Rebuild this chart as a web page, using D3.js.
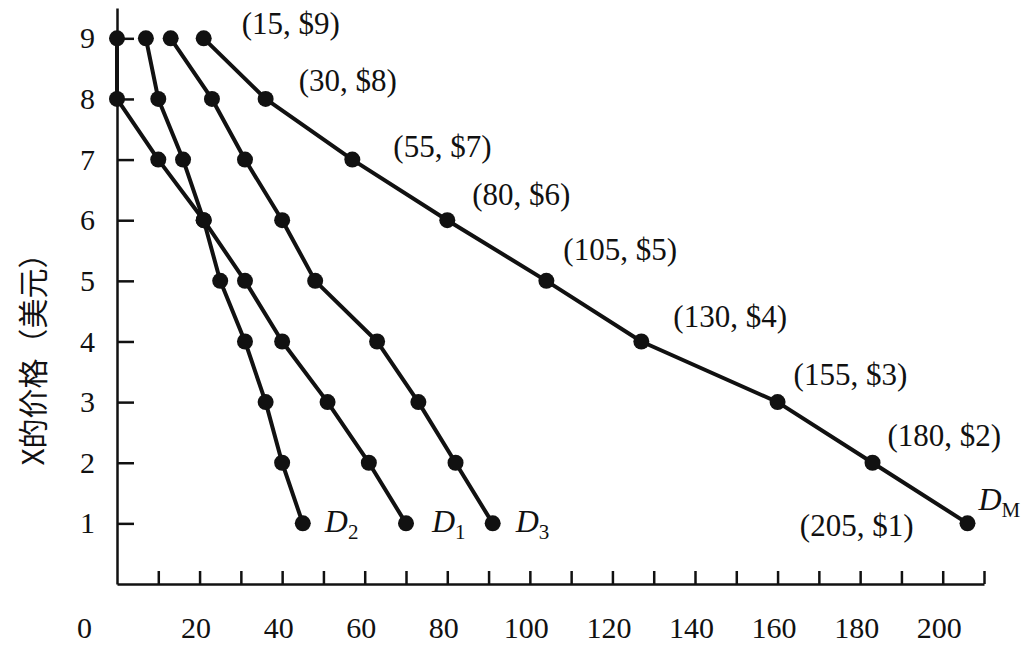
<!DOCTYPE html>
<html>
<head>
<meta charset="utf-8">
<script src="https://cdn.jsdelivr.net/npm/d3@7"></script>
<style>
  html, body { margin: 0; padding: 0; background: #fff; }
  svg { display: block; }
</style>
</head>
<body>
<svg id="chart" width="1032" height="660"></svg>
<script>
// ---- data ----
const prices = [9, 8, 7, 6, 5, 4, 3, 2, 1];
const d1Qty = [0, 0, 10, 21, 31, 40, 51, 61, 70];
const d2Qty = [7, 10, 16, 21, 25, 31, 36, 40, 45];
const d3Qty = [13, 23, 31, 40, 48, 63, 73, 82, 91];
const dmQty = [21, 36, 57, 80, 104, 127, 160, 183, 206];
const dmLabelQty = [15, 30, 55, 80, 105, 130, 155, 180, 205];
const xTickLabels = [0, 20, 40, 60, 80, 100, 120, 140, 160, 180, 200];
const yTickLabels = [1, 2, 3, 4, 5, 6, 7, 8, 9];
const yTitle = "X的价格（美元）";

// ---- layout / style (not data) ----
const labelOffsets = [[38, -4], [33, -8], [41, -3], [25, -15], [17, -21], [32, -14], [16, -17], [15, -17], [-54, 13]];
const serif = "'Liberation Serif', 'Times New Roman', serif";

const svg = d3.select("#chart");
const x = d3.scaleLinear().domain([0, 210]).range([117, 984]);
const y = d3.scaleLinear().domain([0, 9.5]).range([584, 8]);

// x axis ticks
const gx = svg.append("g").attr("transform", `translate(0,${y(0)})`)
  .call(d3.axisBottom(x).tickValues(d3.range(10, 211, 10)).tickSize(-13).tickSizeOuter(0).tickFormat(""));
gx.selectAll("path, line").attr("stroke", "#111").attr("stroke-width", 2.5);

// x tick labels
const gxl = svg.append("g").attr("transform", `translate(0,${y(0)})`)
  .call(d3.axisBottom(x).tickValues(xTickLabels).tickSize(0).tickPadding(33));
gxl.select(".domain").remove();
gxl.selectAll("text").attr("font-family", serif).attr("font-size", 30).attr("fill", "#111")
  .attr("dx", d => d === 0 ? -33 : -4);

// y axis ticks
const gy = svg.append("g").attr("transform", `translate(${x(0)},0)`)
  .call(d3.axisLeft(y).tickValues(yTickLabels).tickSize(-17).tickSizeOuter(0).tickFormat(""));
gy.selectAll("path, line").attr("stroke", "#111").attr("stroke-width", 2.5);

// y tick labels
const gyl = svg.append("g").attr("transform", `translate(${x(0)},0)`)
  .call(d3.axisLeft(y).tickValues(yTickLabels).tickSize(0).tickPadding(22));
gyl.select(".domain").remove();
gyl.selectAll("text").attr("font-family", serif).attr("font-size", 30).attr("fill", "#111");

// y title
svg.append("text")
  .attr("transform", `translate(44,${352}) rotate(-90)`)
  .attr("text-anchor", "middle")
  .attr("font-family", "'Noto Sans CJK SC', sans-serif")
  .attr("font-size", 30)
  .attr("fill", "#111")
  .text(yTitle);

// curves
const series = [
  { name: "D", sub: "1", qty: d1Qty },
  { name: "D", sub: "2", qty: d2Qty },
  { name: "D", sub: "3", qty: d3Qty },
  { name: "D", sub: "M", qty: dmQty }
];
const line = d3.line().x(d => x(d.q)).y(d => y(d.p));
series.forEach(s => {
  const pts = prices.map((p, i) => ({ p, q: s.qty[i] }));
  svg.append("path").datum(pts).attr("d", line)
    .attr("fill", "none").attr("stroke", "#111").attr("stroke-width", 4).attr("stroke-linejoin", "round");
  svg.append("g").selectAll("circle").data(pts).join("circle")
    .attr("cx", d => x(d.q)).attr("cy", d => y(d.p)).attr("r", 8).attr("fill", "#111");
});

// curve names
const nameOffsets = { "1": [26, 9], "2": [22, 9], "3": [23, 9], "M": [11, -13] };
series.forEach(s => {
  const last = s.qty.length - 1;
  const [dx, dy] = nameOffsets[s.sub];
  const t = svg.append("text")
    .attr("x", x(s.qty[last]) + dx).attr("y", y(prices[last]) + dy)
    .attr("font-family", serif).attr("font-size", 32).attr("font-style", "italic").attr("fill", "#111");
  t.append("tspan").text(s.name);
  t.append("tspan").attr("font-size", 21).attr("font-style", "normal").attr("dy", 7).text(s.sub);
});

// DM point labels
svg.append("g").selectAll("text").data(prices).join("text")
  .attr("x", (p, i) => x(dmQty[i]) + labelOffsets[i][0])
  .attr("y", (p, i) => y(p) + labelOffsets[i][1])
  .attr("text-anchor", (p, i) => labelOffsets[i][0] < 0 ? "end" : "start")
  .attr("font-family", serif).attr("font-size", 31).attr("fill", "#111")
  .text((p, i) => `(${dmLabelQty[i]}, $${p})`);
</script>
</body>
</html>
